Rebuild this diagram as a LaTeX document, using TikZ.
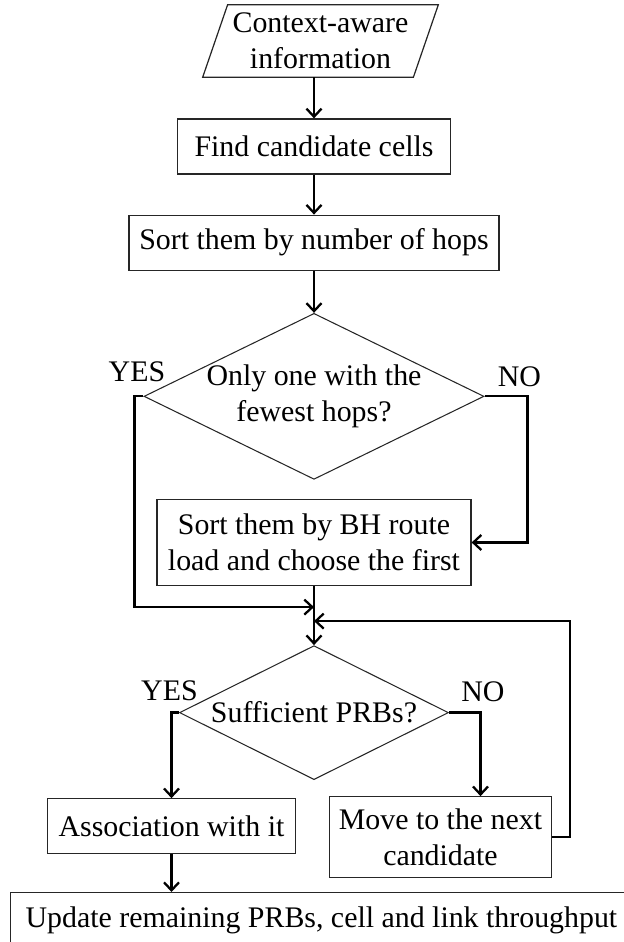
\documentclass[tikz,border=0pt]{standalone}
\usepackage{fontspec}
\setmainfont{Liberation Serif}
\usetikzlibrary{shapes.geometric, arrows.meta, positioning, calc}

\begin{document}
\begin{tikzpicture}[
  font=\fontsize{17}{20.5}\selectfont,
  block/.style={rectangle, draw=black!85, line width=0.7pt, align=center,
                inner sep=2pt},
  io/.style={rectangle, align=center, minimum width=4.2cm,
             minimum height=1.44cm, inner sep=0pt},
  decision/.style={diamond, draw=black!85, line width=0.6pt, inner sep=0pt},
  arr/.style={-{Straight Barb[length=1.6mm, width=3mm]}, line width=1.3pt},
  tag/.style={inner sep=0pt},
]
\useasboundingbox (0,0) rectangle (12.46,-18.84);

% main column
\node[io] (in) at (6.41,-0.82) {Context-aware\\information};
\draw[draw=black!85, line width=0.7pt]
  ($(in.south west)+(-0.25,0)$) -- ($(in.south east)+(-0.25,0)$)
  -- ($(in.north east)+(0.25,0)$) -- ($(in.north west)+(0.25,0)$) -- cycle;
\node[block, minimum width=5.46cm, minimum height=1.1cm,
      below=0.82cm of in, xshift=-0.13cm] (find) {Find candidate cells};
\node[block, minimum width=7.4cm, minimum height=1.1cm,
      below=0.8cm of find] (hops) {Sort them by number of hops};
\node[decision, minimum width=6.8cm, minimum height=3.32cm,
      below=0.84cm of hops,
      label={[align=center]center:Only one with the\\fewest hops?}] (dec1) {};
\node[block, minimum width=6.28cm, minimum height=1.72cm,
      below=0.38cm of dec1] (bh) {Sort them by BH route\\load and choose the first};
\node[decision, minimum width=5.38cm, minimum height=2.68cm,
      below=1.18cm of bh,
      label={center:Sufficient PRBs?}] (dec2) {};

% the two outcomes
\node[block, minimum width=4.96cm, minimum height=1.1cm,
      below=0.36cm of dec2, xshift=-2.85cm] (assoc) {Association with it};
\node[block, minimum width=4.44cm, minimum height=1.62cm,
      below=0.32cm of dec2, xshift=2.53cm] (move) {Move to the next\\candidate};
\node[block, anchor=north west, minimum height=1.1cm, inner xsep=0.3cm,
      text width=12.6cm, align=flush left] (upd) at (0.2,-17.84)
      {Update remaining PRBs, cell and link throughput};

\coordinate (yesin)  at ($(bh.south)+(0,-0.42)$);
\coordinate (loopin) at ($(bh.south)+(0,-0.7)$);

% branch labels
\node[tag, anchor=base east] at ($(dec1.west)+(0.44,0.30)$) {YES};
\node[tag, anchor=base west] at ($(dec1.east)+(0.26,0.20)$) {NO};
\node[tag, anchor=base east] at ($(dec2.west)+(0.38,0.24)$) {YES};
\node[tag, anchor=base west] at ($(dec2.east)+(0.24,0.22)$) {NO};

% connectors
\draw[arr] (in.south -| find.north) -- (find.north);
\draw[arr] (find) -- (hops);
\draw[arr] (hops) -- (dec1);
\draw[arr] (dec1.east) -- ++(0.86,0) |- (bh.east);
\draw[arr] (dec1.west) -- ++(-0.18,0) |- (yesin);
\draw[arr] (bh.south) -- (dec2.north);
\draw[arr] (move.east) -- ++(0.36,0) |- (loopin);
\draw[arr] (dec2.west) -| (assoc.north);
\draw[arr] (dec2.east) -| ($(move.north)+(0.8,0)$);
\draw[arr] (assoc.south) -- (upd.north -| assoc.south);
\end{tikzpicture}
\end{document}
